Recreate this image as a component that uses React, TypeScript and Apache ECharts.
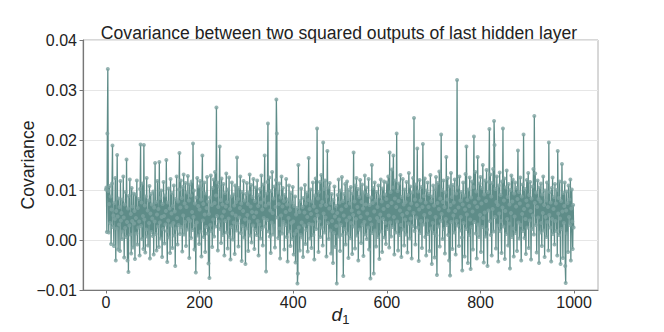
import React, { useEffect, useRef } from "react";
import * as echarts from "echarts";

const titleText = "Covariance between two squared outputs of last hidden layer";
const yAxisTitle = "Covariance";
const xTickValues = [0, 200, 400, 600, 800, 1000];

// covariance values for d1 = 0..249
const covA = [
  0.0101, 0.0105, 0.0016, 0.0213, 0.0342, 0.0098, 0.0015, 0.0072, 0.0108, 0.0034, 0.0087, -0.0008, 0.0061, 0.0113, 0.0189, 0.0026, 0.0049, -0.0012, 0.0074, 0.0042,
  0.0124, -0.0041, 0.0058, 0.0023, 0.0170, 0.0047, -0.0019, 0.0083, 0.0031, 0.0066, -0.0022, 0.0118, 0.0039, 0.0054, 0.0002, 0.0081, 0.0017, 0.0127, 0.0045, -0.0035,
  0.0071, 0.0024, 0.0096, 0.0006, 0.0161, 0.0036, -0.0041, 0.0063, -0.0064, 0.0088, 0.0029, 0.0121, 0.0011, 0.0052, -0.0027, 0.0104, 0.0038, 0.0067, -0.0015, 0.0093,
  0.0033, 0.0058, -0.0038, 0.0091, 0.0044, 0.0013, 0.0119, -0.0009, 0.0064, 0.0025, 0.0082, 0.0037, -0.0031, 0.0102, 0.0191, 0.0028, 0.0075, 0.0002, 0.0113, 0.0048,
  -0.0018, 0.0190, 0.0041, 0.0069, -0.0025, 0.0087, 0.0021, 0.0124, 0.0007, 0.0059, -0.0011, 0.0079, 0.0034, 0.0108, -0.0037, 0.0053, 0.0092, 0.0016, 0.0071, 0.0043,
  0.0008, 0.0097, -0.0029, 0.0065, 0.0037, 0.0154, 0.0012, 0.0076, -0.0021, 0.0051, 0.0118, 0.0027, 0.0062, -0.0014, 0.0156, 0.0035, 0.0084, 0.0003, 0.0099, 0.0046,
  -0.0034, 0.0072, 0.0022, 0.0116, 0.0048, -0.0007, 0.0089, 0.0031, 0.0058, 0.0160, 0.0018, -0.0044, 0.0075, 0.0039, 0.0103, 0.0005, 0.0063, -0.0026, 0.0122, 0.0029,
  0.0053, 0.0094, -0.0016, 0.0068, 0.0034, 0.0109, 0.0009, 0.0057, -0.0052, 0.0082, 0.0023, 0.0127, 0.0044, -0.0009, 0.0077, 0.0030, 0.0101, 0.0174, 0.0012, 0.0065,
  0.0119, 0.0026, 0.0084, -0.0023, 0.0106, 0.0049, 0.0131, 0.0011, 0.0073, 0.0036, 0.0114, -0.0012, 0.0066, 0.0095, 0.0021, 0.0128, 0.0042, 0.0079, -0.0036, 0.0111,
  0.0038, 0.0089, 0.0004, 0.0117, 0.0056, 0.0020, 0.0193, 0.0046, 0.0099, -0.0019, 0.0073, 0.0029, -0.0065, 0.0085, 0.0035, 0.0124, 0.0009, 0.0068, 0.0107, -0.0008,
  0.0061, 0.0118, 0.0017, 0.0081, -0.0033, 0.0102, 0.0169, 0.0039, 0.0072, 0.0006, 0.0115, 0.0051, -0.0024, 0.0093, 0.0026, 0.0064, 0.0126, 0.0013, 0.0077, -0.0047,
  0.0052, -0.0076, 0.0085, 0.0030, 0.0129, 0.0018, 0.0070, -0.0014, 0.0104, 0.0041, 0.0121, 0.0007, 0.0074, 0.0136, 0.0027, 0.0089, 0.0265, 0.0048, 0.0115, -0.0021,
  0.0066, 0.0037, 0.0107, 0.0187, 0.0022, 0.0080, -0.0006, 0.0123, 0.0047, 0.0071,
];

// covariance values for d1 = 250..499
const covB = [
  0.0010, 0.0112, 0.0057, -0.0031, 0.0094, 0.0038, 0.0067, 0.0133, 0.0015, 0.0076,
  -0.0017, 0.0101, 0.0043, 0.0125, 0.0006, 0.0062, -0.0039, 0.0087, 0.0026, 0.0115, 0.0053, 0.0001, 0.0091, 0.0035, 0.0069, -0.0028, 0.0109, 0.0049, 0.0076, 0.0019,
  0.0165, 0.0033, 0.0082, -0.0013, 0.0104, 0.0045, 0.0064, 0.0127, 0.0014, 0.0073, -0.0042, 0.0096, 0.0028, 0.0058, 0.0118, 0.0005, 0.0079, 0.0041, -0.0048, 0.0092,
  0.0023, 0.0114, 0.0050, 0.0072, -0.0022, 0.0095, 0.0037, 0.0131, 0.0009, 0.0067, 0.0110, -0.0005, 0.0056, 0.0086, 0.0029, 0.0122, 0.0046, -0.0018, 0.0078, 0.0020,
  0.0105, 0.0055, 0.0010, 0.0119, 0.0038, 0.0068, -0.0031, 0.0090, 0.0031, 0.0102, 0.0003, 0.0075, 0.0129, 0.0022, 0.0061, -0.0011, 0.0111, 0.0044, 0.0081, 0.0169,
  0.0027, 0.0069, -0.0063, 0.0093, 0.0040, 0.0116, 0.0233, 0.0017, 0.0073, 0.0125, 0.0007, 0.0059, -0.0026, 0.0098, 0.0035, 0.0136, 0.0054, 0.0011, 0.0083, 0.0029,
  0.0107, -0.0015, 0.0066, 0.0120, 0.0281, 0.0213, 0.0045, 0.0095, 0.0004, 0.0072, 0.0113, 0.0023, -0.0037, 0.0085, 0.0049, 0.0127, 0.0013, 0.0067, 0.0104, 0.0036,
  0.0078, -0.0019, 0.0090, 0.0030, 0.0056, 0.0122, 0.0006, 0.0071, -0.0043, 0.0081, 0.0044, 0.0109, 0.0017, 0.0060, -0.0012, 0.0094, 0.0034, 0.0075, 0.0002, 0.0106,
  0.0037, -0.0029, 0.0068, 0.0012, 0.0087, -0.0045, 0.0051, 0.0018, 0.0064, -0.0087, -0.0067, 0.0150, 0.0025, 0.0056, -0.0021, 0.0078, 0.0010, 0.0103, 0.0035, 0.0005,
  0.0066, -0.0034, 0.0084, 0.0029, 0.0055, 0.0110, -0.0008, 0.0073, 0.0020, 0.0094, 0.0046, -0.0023, 0.0080, 0.0164, 0.0032, 0.0062, 0.0003, 0.0101, 0.0052, -0.0016,
  0.0077, 0.0031, 0.0115, 0.0010, 0.0067, -0.0039, 0.0089, 0.0042, 0.0123, 0.0022, 0.0058, 0.0223, 0.0049, 0.0083, -0.0024, 0.0096, 0.0037, 0.0116, 0.0006, 0.0069,
  0.0130, 0.0025, 0.0076, -0.0011, 0.0195, 0.0053, 0.0102, 0.0015, 0.0119, 0.0045, 0.0070, -0.0033, 0.0087, 0.0178, 0.0034, 0.0105, 0.0002, 0.0063, 0.0114, 0.0019,
  0.0074, -0.0027, 0.0092, 0.0038, 0.0057, -0.0046, 0.0080, 0.0014, 0.0107, 0.0047, -0.0014, 0.0068, 0.0028, -0.0087, 0.0054, 0.0090, 0.0007, 0.0121, 0.0041, 0.0075,
];

// covariance values for d1 = 500..749
const covC = [
  -0.0022, 0.0099, 0.0030, 0.0061, 0.0126, 0.0010, 0.0078, -0.0072, 0.0049, 0.0092, 0.0022, 0.0112, -0.0009, 0.0068, 0.0039, 0.0117, 0.0013, 0.0082, -0.0036, 0.0100,
  0.0045, 0.0073, 0.0004, 0.0106, 0.0034, 0.0059, -0.0028, 0.0093, 0.0050, 0.0175, 0.0027, 0.0077, -0.0017, 0.0109, 0.0042, 0.0124, 0.0009, 0.0066, 0.0102, -0.0041,
  0.0055, 0.0086, 0.0021, 0.0120, 0.0046, -0.0006, 0.0076, 0.0111, 0.0030, 0.0063, -0.0032, 0.0095, 0.0036, 0.0129, 0.0011, 0.0071, 0.0105, 0.0002, 0.0053, 0.0090,
  0.0025, 0.0122, -0.0019, 0.0070, 0.0042, -0.0077, 0.0085, 0.0031, 0.0150, 0.0014, 0.0074, 0.0104, -0.0067, 0.0057, 0.0115, 0.0019, 0.0079, -0.0013, 0.0096, 0.0044,
  0.0066, 0.0006, 0.0109, 0.0038, -0.0038, 0.0087, 0.0051, 0.0121, 0.0017, 0.0077, -0.0024, 0.0103, 0.0042, 0.0062, 0.0117, 0.0005, 0.0091, 0.0034, -0.0008, 0.0082,
  0.0115, 0.0022, 0.0068, 0.0127, 0.0049, -0.0015, 0.0175, 0.0035, 0.0096, 0.0007, 0.0074, 0.0141, 0.0026, 0.0105, 0.0169, 0.0046, -0.0029, 0.0083, 0.0119, 0.0015,
  0.0066, 0.0213, 0.0037, 0.0098, -0.0021, 0.0078, 0.0113, 0.0010, 0.0059, 0.0130, 0.0030, -0.0034, 0.0086, 0.0050, 0.0122, 0.0021, 0.0071, -0.0011, 0.0101, 0.0041,
  0.0076, 0.0011, 0.0116, 0.0054, -0.0025, 0.0090, 0.0033, 0.0134, 0.0063, 0.0003, 0.0107, 0.0043, 0.0073, -0.0037, 0.0095, 0.0028, 0.0124, 0.0054, 0.0244, 0.0018,
  0.0081, -0.0009, 0.0111, 0.0045, 0.0070, 0.0183, 0.0025, 0.0097, -0.0042, 0.0061, 0.0120, 0.0014, 0.0079, 0.0038, 0.0106, -0.0016, 0.0066, 0.0192, 0.0031, 0.0088,
  0.0050, 0.0123, 0.0006, 0.0075, -0.0031, 0.0099, 0.0039, 0.0115, 0.0012, 0.0066, 0.0092, -0.0022, 0.0054, 0.0130, 0.0023, 0.0078, -0.0048, 0.0087, 0.0034, 0.0109,
  0.0014, 0.0069, -0.0035, 0.0102, 0.0046, 0.0126, 0.0009, -0.0070, 0.0074, 0.0114, 0.0027, 0.0062, 0.0137, -0.0013, 0.0083, 0.0038, 0.0211, 0.0052, 0.0100, 0.0002,
  0.0076, 0.0119, 0.0022, 0.0066, -0.0027, 0.0095, 0.0042, 0.0166, 0.0030, 0.0081, 0.0124, 0.0010, 0.0059, -0.0041, 0.0107, -0.0071, 0.0070, 0.0134, 0.0036, 0.0086,
  -0.0018, 0.0110, 0.0049, 0.0075, 0.0015, 0.0121, 0.0058, -0.0029, 0.0093, 0.0038,
];

// covariance values for d1 = 750..999
const covD = [
  0.0320, 0.0029, 0.0105, 0.0065, -0.0012, 0.0127, 0.0019, 0.0079, 0.0046, 0.0096,
  0.0005, -0.0061, 0.0071, 0.0115, 0.0034, 0.0089, -0.0033, 0.0061, 0.0132, 0.0022, 0.0187, 0.0051, 0.0080, -0.0046, 0.0101, 0.0010, 0.0068, 0.0125, 0.0041, -0.0058,
  0.0085, 0.0026, 0.0117, 0.0057, -0.0019, 0.0106, 0.0207, 0.0036, 0.0075, 0.0136, 0.0013, 0.0097, -0.0037, 0.0066, 0.0166, 0.0031, 0.0083, 0.0006, 0.0113, 0.0050,
  0.0126, -0.0024, 0.0073, 0.0104, 0.0026, 0.0150, 0.0044, -0.0045, 0.0091, 0.0055, 0.0119, 0.0007, 0.0078, 0.0140, 0.0021, -0.0052, 0.0096, 0.0059, 0.0116, 0.0222,
  0.0038, 0.0131, 0.0010, 0.0087, -0.0031, 0.0114, 0.0062, 0.0142, 0.0017, 0.0238, 0.0190, 0.0046, 0.0102, -0.0017, 0.0076, 0.0127, 0.0029, 0.0070, -0.0043, 0.0109,
  0.0053, 0.0135, 0.0018, 0.0090, 0.0038, -0.0026, 0.0117, 0.0065, 0.0223, 0.0027, 0.0079, 0.0123, -0.0038, 0.0058, 0.0105, 0.0012, 0.0139, 0.0042, 0.0086, -0.0011,
  0.0112, 0.0033, 0.0071, -0.0057, 0.0100, 0.0054, 0.0129, 0.0006, 0.0077, 0.0121, 0.0023, -0.0033, 0.0093, 0.0047, 0.0115, 0.0014, 0.0067, 0.0104, -0.0022, 0.0082,
  0.0179, 0.0035, 0.0096, 0.0003, 0.0073, 0.0125, 0.0030, -0.0041, 0.0087, 0.0052, 0.0111, 0.0018, 0.0211, 0.0062, 0.0004, 0.0102, 0.0042, -0.0028, 0.0079, 0.0120,
  0.0025, 0.0069, 0.0134, -0.0016, 0.0090, 0.0039, 0.0116, 0.0058, -0.0039, 0.0083, 0.0022, 0.0107, 0.0049, 0.0142, 0.0011, 0.0248, 0.0074, 0.0133, 0.0030, 0.0095,
  -0.0025, 0.0066, 0.0119, 0.0045, 0.0082, -0.0046, 0.0105, 0.0015, 0.0077, 0.0113, 0.0034, -0.0012, 0.0091, 0.0054, 0.0127, 0.0019, 0.0070, -0.0034, 0.0099, 0.0046,
  0.0079, 0.0006, 0.0115, 0.0036, 0.0066, -0.0021, 0.0195, 0.0050, 0.0096, 0.0025, 0.0075, -0.0043, 0.0104, 0.0042, 0.0125, 0.0012, 0.0062, 0.0086, -0.0009, 0.0112,
  0.0038, 0.0073, 0.0018, 0.0100, -0.0031, 0.0178, 0.0053, 0.0084, 0.0010, 0.0117, 0.0043, -0.0048, 0.0078, 0.0022, 0.0152, 0.0057, -0.0036, 0.0094, 0.0034, 0.0068,
  0.0115, -0.0052, -0.0086, 0.0059, 0.0097, 0.0013, 0.0074, -0.0024, 0.0109, 0.0046, 0.0081, 0.0030, 0.0121, -0.0041, 0.0063, 0.0101, 0.0037, -0.0018, 0.0070, 0.0025,
];

const FONT = "'Liberation Sans', Arial, Helvetica, sans-serif";

export default function App() {
  const ref = useRef<HTMLDivElement>(null);

  useEffect(() => {
    if (!ref.current) return;
    const chart = echarts.init(ref.current, undefined, { renderer: "svg" });
    const values = [...covA, ...covB, ...covC, ...covD];
    const data = values.map((v, i) => [i, v]);

    chart.setOption({
      animation: false,
      backgroundColor: "#ffffff",
      title: {
        text: titleText,
        left: 334,
        top: 19,
        textAlign: "center",
        textStyle: { fontFamily: FONT, fontSize: 17.6, fontWeight: "normal", color: "#222222" },
      },
      grid: {
        left: 83,
        right: 66,
        top: 40,
        bottom: 42,
        containLabel: false,
        outerBoundsMode: "none",
        show: true,
        borderColor: "#b0b0b0",
        borderWidth: 1,
        backgroundColor: "transparent",
      },
      xAxis: {
        type: "value",
        min: -49,
        max: 1051,
        name: "{d|d}{s|1}",
        nameLocation: "middle",
        nameGap: 13,
        nameMoveOverlap: false,
        nameTextStyle: {
          rich: {
            d: { fontFamily: FONT, fontSize: 19, fontStyle: "italic", color: "#222222" },
            s: { fontFamily: FONT, fontSize: 13, color: "#222222", padding: [10, 0, 0, 0] },
          },
        },
        axisLine: { show: true, onZero: false, lineStyle: { color: "#777777", width: 1.2 } },
        axisTick: { show: true, length: 3.5, lineStyle: { color: "#777777" }, customValues: xTickValues },
        axisLabel: {
          customValues: xTickValues,
          margin: 4,
          fontFamily: FONT,
          fontSize: 16,
          color: "#222222",
          formatter: (v: number) => String(Math.round(v)),
        },
        splitLine: { show: false },
      },
      yAxis: {
        type: "value",
        min: -0.01,
        max: 0.04,
        interval: 0.01,
        name: yAxisTitle,
        nameLocation: "middle",
        nameGap: 46,
        nameMoveOverlap: false,
        nameTextStyle: { fontFamily: FONT, fontSize: 17.6, color: "#222222" },
        axisLine: { show: true, onZero: false, lineStyle: { color: "#777777", width: 1.2 } },
        axisTick: { show: true, length: 3.5, lineStyle: { color: "#777777" } },
        axisLabel: {
          margin: 6,
          fontFamily: FONT,
          fontSize: 16,
          color: "#222222",
          formatter: (v: number) => (v < -1e-9 ? "\u2212" : "") + Math.abs(v).toFixed(2),
        },
        splitLine: { show: true, lineStyle: { color: "#e6e6e6", width: 1 } },
      },
      series: [
        {
          type: "line",
          data,
          showSymbol: true,
          showAllSymbol: true,
          symbol: "circle",
          symbolSize: 4,
          itemStyle: { color: "rgba(125,163,160,0.8)", borderWidth: 0 },
          lineStyle: { color: "#5e8c88", width: 1.3 },
          emphasis: { disabled: true },
          z: 3,
        },
      ],
    });
    return () => chart.dispose();
  }, []);

  return (
    <div
      ref={ref}
      style={{ position: "fixed", left: 0, top: 0, width: 664, height: 332, background: "#fff" }}
    />
  );
}
